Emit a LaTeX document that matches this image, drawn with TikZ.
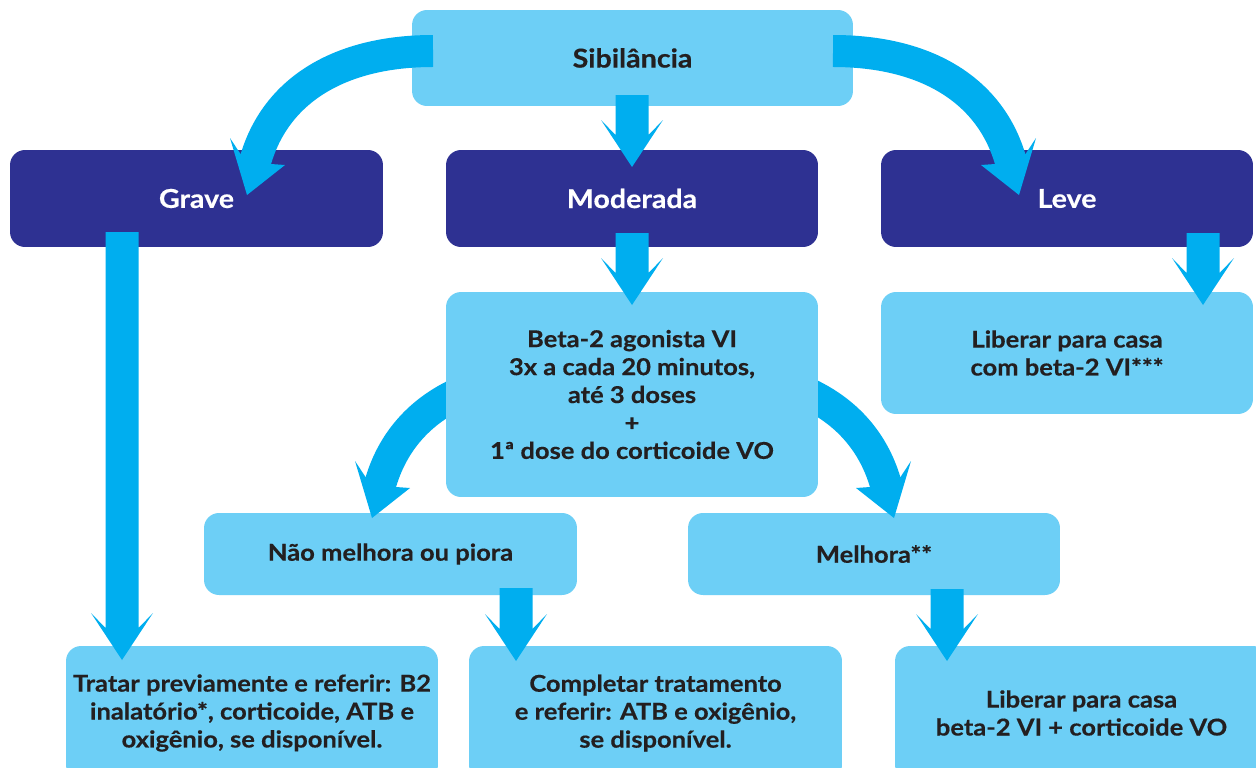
\documentclass[tikz,border=0pt]{standalone}
\usepackage{fontspec}
\setmainfont{Lato}[FakeStretch=1.1, FakeBold=0.4]
\usetikzlibrary{calc}
\definecolor{lightb}{HTML}{6DCFF6}
\definecolor{navy}{HTML}{2E3192}
\definecolor{arrowc}{HTML}{00AEEF}
\definecolor{txt}{HTML}{231F20}
\newcommand\bodyfont{\bfseries\fontsize{13.2}{15.9}\selectfont}
\newcommand\titlefont{\bfseries\fontsize{14.8}{16}\selectfont}
% straight fat arrow: x, top y, barb y
\newcommand\fatdown[3]{%
  \fill[arrowc] ({#1-16.5},#2) -- ({#1+16.5},#2) -- ({#1+16.5},{#3+15}) -- ({#1+31},#3)
    -- (#1,{#3+47}) -- ({#1-31},#3) -- ({#1-16.5},{#3+15}) -- cycle;}
\begin{document}
\begin{tikzpicture}[x=0.02cm,y=-0.02cm,
  lbox/.style={fill=lightb, text=txt, rounded corners=0.3cm, inner sep=0pt, align=center, font=\bodyfont},
  dbox/.style={fill=navy, text=white, rounded corners=0.3cm, inner sep=0pt, align=center, font=\titlefont},
  shaft/.style={draw=arrowc, line width=0.64cm}]
\clip (0,0) rectangle (1256,767);
\fill[white] (0,0) rectangle (1256,767);

% lower curved shafts (behind the Beta box)
\coordinate (lls) at (558,374);
\coordinate (lle) at (380,485);
\coordinate (lrs) at (708,374);
\coordinate (lre) at (886,485);
\draw[shaft] (lls) .. controls (465,374) and (400,413) .. (lle);
\draw[shaft] (lrs) .. controls (801,374) and (866,413) .. (lre);

% boxes
\node[lbox, minimum width=8.82cm, minimum height=1.92cm, font=\titlefont] (sib) at (632.5,58) {Sibilância};
\node[dbox, minimum width=7.46cm, minimum height=1.94cm] (grave) at (196.5,198.5) {Grave};
\node[dbox, minimum width=7.44cm, minimum height=1.94cm] (mod) at (632,198.5) {Moderada};
\node[dbox, minimum width=7.44cm, minimum height=1.94cm] (leve) at (1067,198.5) {Leve};
\node[lbox, minimum width=7.44cm, minimum height=4.10cm] (beta) at (632,394.5)
  {Beta-2 agonista VI\\3x a cada 20 minutos,\\até 3 doses\\+\\1ª dose do corticoide VO};
\node[lbox, minimum width=7.44cm, minimum height=2.44cm] (lib1) at (1067,353)
  {Liberar para casa\\com beta-2 VI***};
\node[lbox, minimum width=7.46cm, minimum height=1.64cm] (nao) at (390.5,554) {Não melhora ou piora};
\node[lbox, minimum width=7.44cm, minimum height=1.64cm] (mel) at (874,554) {Melhora**};
\node[lbox, minimum width=7.44cm, minimum height=2.68cm] (trat) at (252,713)
  {Tratar previamente e referir: B2\\inalatório*, corticoide, ATB e\\oxigênio, se disponível.};
\node[lbox, minimum width=7.46cm, minimum height=2.68cm] (comp) at (655.5,713)
  {Completar tratamento\\e referir: ATB e oxigênio,\\se disponível.};
\node[lbox, minimum width=7.46cm, minimum height=2.68cm] (lib2) at (1081.5,713)
  {Liberar para casa\\beta-2 VI + corticoide VO};

% top curved arrows
\coordinate (tls) at (433,51);
\coordinate (tle) at (255,162);
\coordinate (trs) at (833,51);
\coordinate (tre) at (1011,162);
\draw[shaft] (tls) .. controls (340,51) and (275,90) .. (tle);
\fill[arrowc] (240.5,154) -- (230,138) -- (247,195) -- (285,165) -- (271,164) -- cycle;
\draw[shaft] (trs) .. controls (926,51) and (991,90) .. (tre);
\fill[arrowc] (1025.5,154) -- (1036,138) -- (1019,195) -- (981,165) -- (995,164) -- cycle;

% lower curved heads
\fill[arrowc] (365.5,477) -- (355,461) -- (372,518) -- (410,488) -- (396,487) -- cycle;
\fill[arrowc] (900.5,477) -- (911,461) -- (894,518) -- (856,488) -- (870,487) -- cycle;

% straight arrows
\fatdown{632}{95}{120}
\fatdown{632}{233}{258}
\fatdown{1203}{233}{258}
\fatdown{122}{232}{613}
\fatdown{516}{588}{614}
\fatdown{947}{589}{614}
\end{tikzpicture}
\end{document}
